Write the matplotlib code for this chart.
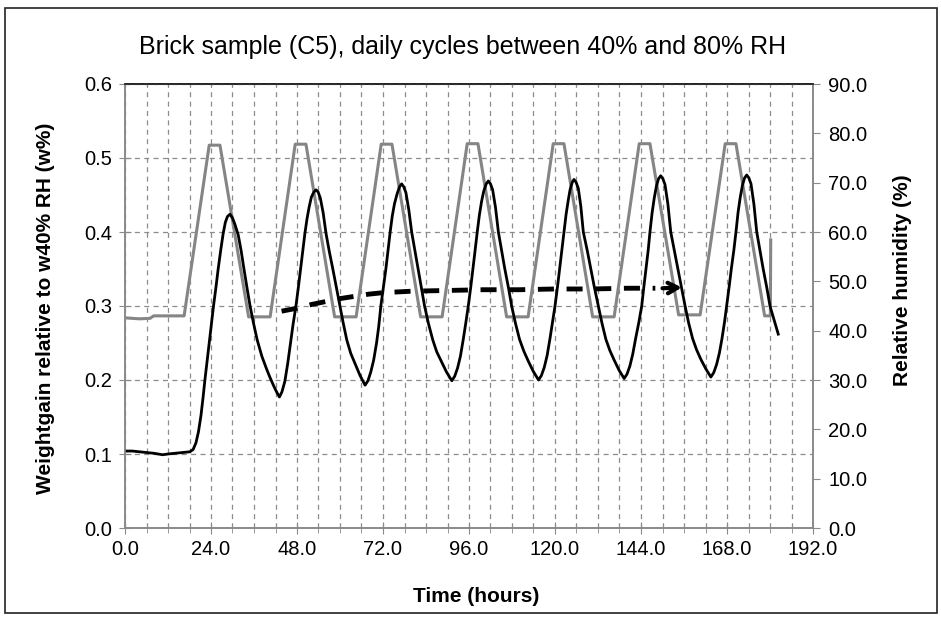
import matplotlib
matplotlib.use('Agg')
import matplotlib.pyplot as plt
from matplotlib.ticker import MultipleLocator, FormatStrFormatter
from matplotlib.patches import Rectangle

# weight gain (left axis, w%)
weight_hours = [0.0, 2.0, 4.0, 6.0, 8.0, 10.5, 12.0, 14.0, 16.0, 18.1,
                19.0, 19.8, 20.5, 21.2, 21.8, 22.3, 22.9, 23.5, 24.1, 24.7,
                25.4, 26.0, 26.7, 27.4, 28.0, 28.6, 29.3, 30.0, 30.7, 31.6,
                32.4, 33.2, 34.0, 34.9, 35.9, 36.9, 38.2, 39.5, 40.5, 41.5,
                42.3, 43.1,
                43.8, 44.6, 45.4, 46.2, 46.9, 47.7, 48.4, 49.0, 49.6, 50.2,
                50.8, 51.4, 52.0, 52.7, 53.3, 53.9, 54.5, 55.3, 56.1, 57.0,
                58.0, 59.0, 60.0, 60.9, 61.9, 63.0, 64.2, 65.6, 67.0,
                67.8, 68.6, 69.4, 70.2, 70.8, 71.4, 72.1, 72.8, 73.4, 74.0,
                74.6, 75.2, 75.9, 76.6, 77.2, 77.8, 78.4, 79.2, 80.0, 80.9,
                81.8, 82.7, 83.6, 84.7, 85.9, 87.0, 88.3, 89.7, 91.2,
                92.0, 92.8, 93.6, 94.4, 95.1, 95.8, 96.5, 97.1, 97.7, 98.3,
                98.9, 99.5, 100.1, 100.8, 101.4, 102.0, 102.6, 103.4, 104.2, 105.1,
                106.0, 107.0, 107.9, 109.0, 110.1, 111.3, 112.5, 113.9, 115.4,
                116.2, 117.0, 117.8, 118.6, 119.3, 120.0, 120.7, 121.3, 121.9, 122.5,
                123.1, 123.7, 124.2, 124.8, 125.3, 125.9, 126.5, 127.2, 127.9, 129.0,
                130.0, 131.0, 132.1, 133.1, 134.2, 135.3, 136.5, 137.9, 139.3,
                140.1, 140.9, 141.7, 142.5, 143.4, 144.2, 144.8, 145.4, 146.0, 146.5,
                147.1, 147.7, 148.3, 148.9, 149.5, 150.1, 150.7, 151.5, 152.3, 153.3,
                154.3, 155.3, 156.3, 157.3, 158.4, 159.5, 160.7, 162.1, 163.5,
                164.3, 165.1, 165.9, 166.6, 167.3, 167.9, 168.6, 169.2, 169.9, 170.5,
                171.1, 171.7, 172.3, 172.9, 173.5, 174.1, 174.7, 175.5, 176.3, 177.2,
                178.1, 179.1, 180.0, 181.2, 182.3]
weight_values = [0.104, 0.104, 0.103, 0.102, 0.101, 0.099, 0.100, 0.101, 0.102, 0.103,
                 0.106, 0.115, 0.130, 0.152, 0.177, 0.200, 0.225, 0.250, 0.275, 0.300,
                 0.326, 0.350, 0.375, 0.398, 0.413, 0.421, 0.424, 0.419, 0.410, 0.396,
                 0.375, 0.350, 0.326, 0.300, 0.276, 0.254, 0.232, 0.215, 0.203, 0.192,
                 0.184, 0.177,
                 0.184, 0.198, 0.222, 0.250, 0.275, 0.300, 0.326, 0.350, 0.375, 0.398,
                 0.418, 0.434, 0.447, 0.454, 0.457, 0.454, 0.446, 0.426, 0.398, 0.374,
                 0.350, 0.325, 0.300, 0.277, 0.254, 0.236, 0.222, 0.206, 0.193,
                 0.199, 0.211, 0.227, 0.250, 0.272, 0.300, 0.325, 0.350, 0.375, 0.400,
                 0.422, 0.438, 0.451, 0.461, 0.465, 0.461, 0.453, 0.430, 0.400, 0.375,
                 0.350, 0.325, 0.300, 0.276, 0.254, 0.238, 0.225, 0.211, 0.199,
                 0.205, 0.216, 0.232, 0.255, 0.277, 0.300, 0.326, 0.350, 0.375, 0.400,
                 0.423, 0.441, 0.455, 0.465, 0.469, 0.465, 0.457, 0.433, 0.400, 0.375,
                 0.350, 0.325, 0.300, 0.276, 0.255, 0.239, 0.226, 0.212, 0.200,
                 0.206, 0.217, 0.233, 0.256, 0.278, 0.300, 0.326, 0.350, 0.375, 0.400,
                 0.424, 0.443, 0.457, 0.467, 0.471, 0.467, 0.459, 0.435, 0.400, 0.375,
                 0.350, 0.325, 0.300, 0.277, 0.255, 0.240, 0.227, 0.213, 0.202,
                 0.208, 0.219, 0.235, 0.256, 0.278, 0.300, 0.326, 0.350, 0.375, 0.400,
                 0.426, 0.446, 0.462, 0.472, 0.476, 0.472, 0.464, 0.438, 0.400, 0.375,
                 0.350, 0.325, 0.300, 0.277, 0.256, 0.241, 0.228, 0.215, 0.204,
                 0.210, 0.221, 0.237, 0.256, 0.278, 0.300, 0.326, 0.350, 0.375, 0.400,
                 0.427, 0.447, 0.463, 0.473, 0.477, 0.473, 0.465, 0.438, 0.400, 0.375,
                 0.350, 0.325, 0.300, 0.280, 0.262]

# relative humidity (right axis, %)
rh_hours = [0.0, 4.0, 7.0, 8.0, 16.5, 23.5, 26.5, 34.5, 40.5, 47.5, 50.5,
            58.5, 64.5, 71.5, 74.5, 82.5, 88.5, 95.5, 98.5, 106.5, 112.5,
            119.5, 122.5, 130.5, 136.5, 143.5, 146.5, 154.5, 160.5, 167.5,
            170.5, 178.5, 180.1, 180.2]
rh_values = [42.6, 42.4, 42.5, 43.0, 43.0, 77.6, 77.6, 42.8, 42.8, 77.8, 77.8,
             42.8, 42.8, 77.8, 77.8, 42.8, 42.8, 77.9, 77.9, 42.8, 42.8,
             77.9, 77.9, 42.8, 42.8, 77.9, 77.9, 43.2, 43.2, 77.9,
             77.9, 43.0, 43.0, 58.4]

# dashed trend arrow
trend_hours = [43.7, 48.0, 52.0, 56.0, 60.0, 64.0, 68.0, 72.0, 80.0, 90.0,
               100.0, 110.0, 120.0, 130.0, 140.0, 148.0]
trend_values = [0.293, 0.297, 0.302, 0.306, 0.310, 0.313, 0.316, 0.318, 0.320, 0.321,
                0.322, 0.322, 0.323, 0.323, 0.324, 0.324]
arrow_tail = (150.0, 0.324)
arrow_tip = (155.4, 0.325)

title = 'Brick sample (C5), daily cycles between 40% and 80% RH'
left_label = 'Weightgain relative to w40% RH (w%)'
right_label = 'Relative humidity (%)'
x_label = 'Time (hours)'

plt.rcParams['font.family'] = ['Liberation Sans', 'DejaVu Sans']
axis_grey = '#8a8a8a'

fig = plt.figure(figsize=(9.41, 6.19), dpi=100)
ax = fig.add_axes([125 / 941, 1 - 528 / 619, 688 / 941, 444 / 619])
ax2 = ax.twinx()
ax.set_zorder(ax2.get_zorder() + 1)
ax.patch.set_visible(False)

ax2.plot(rh_hours, rh_values, color='#858585', lw=2.2)
ax.plot(weight_hours, weight_values, color='black', lw=2.0)
ax.plot(trend_hours, trend_values, color='black', lw=3.5, dashes=(3.3, 2.6),
        solid_capstyle='butt', dash_capstyle='butt')
ax.annotate('', xy=arrow_tip, xytext=arrow_tail,
            arrowprops=dict(arrowstyle='->,head_length=0.7,head_width=0.38',
                            color='black', lw=3.0, shrinkA=0, shrinkB=0))

ax.set_xlim(0, 192)
ax.set_ylim(0, 0.6)
ax2.set_ylim(0, 90)

ax.xaxis.set_major_locator(MultipleLocator(24))
ax.xaxis.set_minor_locator(MultipleLocator(6))
ax.yaxis.set_major_locator(MultipleLocator(0.1))
ax2.yaxis.set_major_locator(MultipleLocator(10))
ax.xaxis.set_major_formatter(FormatStrFormatter('%.1f'))
ax.yaxis.set_major_formatter(FormatStrFormatter('%.1f'))
ax2.yaxis.set_major_formatter(FormatStrFormatter('%.1f'))

grid_kw = dict(color='#8c8c8c', lw=0.9, linestyle=(0, (4, 3.5)))
ax.grid(True, axis='x', which='both', **grid_kw)
ax.grid(True, axis='y', which='major', **grid_kw)

for a in (ax, ax2):
    for side in ('left', 'right', 'bottom'):
        a.spines[side].set_color(axis_grey)
        a.spines[side].set_linewidth(1.2)
    a.spines['top'].set_color('#222222')
    a.spines['top'].set_linewidth(1.2)

ax.tick_params(axis='x', which='major', direction='inout', length=9,
               color=axis_grey, labelsize=14.5, pad=4)
ax.tick_params(axis='x', which='minor', direction='inout', length=7, color=axis_grey)
ax.tick_params(axis='y', direction='inout', length=9, color=axis_grey,
               labelsize=14.5, pad=5)
ax2.tick_params(axis='y', direction='out', length=5, color=axis_grey,
                labelsize=14.5, pad=6)

fig.text(0.492, 1 - 47 / 619, title, ha='center', va='center', fontsize=18)
fig.text(476 / 941, 1 - 596 / 619, x_label, ha='center', va='center',
         fontsize=15, fontweight='bold')
fig.text(46 / 941, 1 - 308 / 619, left_label, ha='center', va='center',
         rotation=90, fontsize=15, fontweight='bold')
fig.text(903 / 941, 1 - 280 / 619, right_label, ha='center', va='center',
         rotation=90, fontsize=15, fontweight='bold')

# chart frame
fig.patches.append(Rectangle((5 / 941, 1 - 613 / 619), 932 / 941, 605 / 619,
                             transform=fig.transFigure, fill=False,
                             edgecolor='#222222', lw=1.2))

fig.savefig('out.png', dpi=100)
